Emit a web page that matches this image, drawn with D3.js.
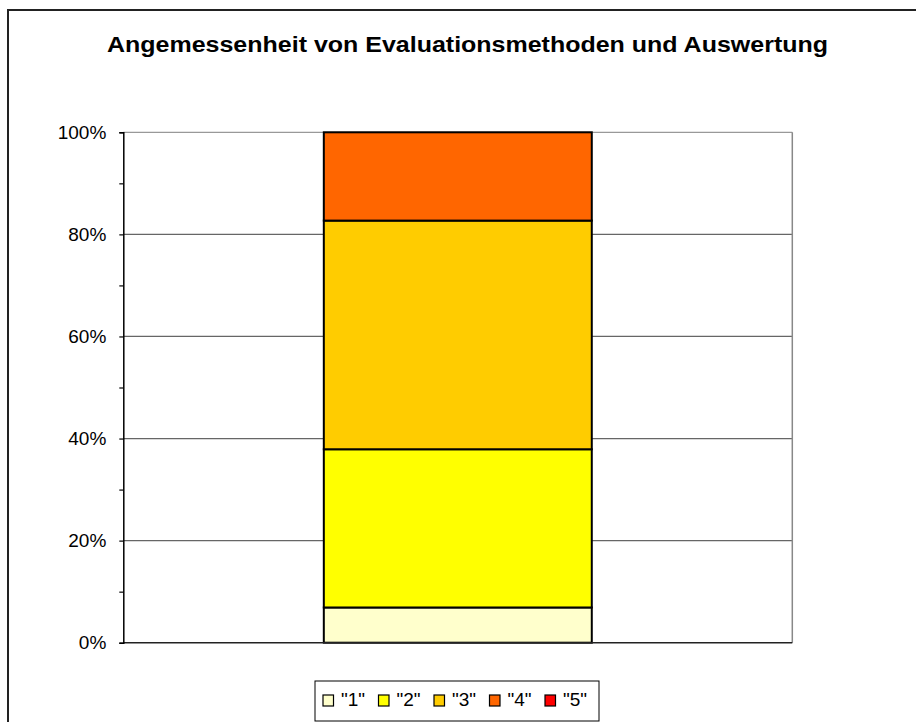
<!DOCTYPE html>
<html>
<head>
<meta charset="utf-8">
<script src="https://cdn.jsdelivr.net/npm/d3@7"></script>
<style>
  body { margin: 0; background: #fff; }
  svg { display: block; font-family: "Liberation Sans", Arial, sans-serif; }
</style>
</head>
<body>
<div id="chart"></div>
<script>
// data (share of answers, in %)
var title = "Angemessenheit von Evaluationsmethoden und Auswertung";
var categories = ["Angemessenheit"];
var seriesNames = ['"1"', '"2"', '"3"', '"4"', '"5"'];
var seriesValues = [6.9, 31.0, 44.8, 17.3, 0.0];
var seriesColors = ["#FFFFCC", "#FFFF00", "#FFCC00", "#FF6600", "#FF0000"];
var majorTicks = [0, 20, 40, 60, 80, 100];
var minorTicks = [10, 30, 50, 70, 90];

var width = 916, height = 722;
var plot = { left: 123.3, right: 792.3, top: 132.3, bottom: 642.7 };

var svg = d3.select("#chart").append("svg")
    .attr("width", width)
    .attr("height", height);

// outer chart frame (runs off the right and bottom edge)
svg.append("rect")
    .attr("x", 8).attr("y", 10)
    .attr("width", 1000).attr("height", 1000)
    .attr("fill", "#fff")
    .attr("stroke", "#222")
    .attr("stroke-width", 2);

svg.append("text")
    .attr("x", 467.5)
    .attr("y", 52.3)
    .attr("text-anchor", "middle")
    .attr("font-size", 21.5)
    .attr("font-weight", "bold")
    .attr("textLength", 721)
    .attr("lengthAdjust", "spacingAndGlyphs")
    .text(title);

var y = d3.scaleLinear().domain([0, 100]).range([plot.bottom, plot.top]);
var x = d3.scaleBand().domain(categories).range([plot.left, plot.right]).padding(0.428);

// gridlines
svg.append("g").selectAll("line")
  .data(majorTicks.slice(1))
  .join("line")
    .attr("x1", plot.left).attr("x2", plot.right)
    .attr("y1", (d) => y(d)).attr("y2", (d) => y(d))
    .attr("stroke", (d) => d === 100 ? "#999" : "#666")
    .attr("stroke-width", 1.2);

// plot area right border
svg.append("line")
    .attr("x1", plot.right).attr("x2", plot.right)
    .attr("y1", plot.top).attr("y2", plot.bottom)
    .attr("stroke", "#888")
    .attr("stroke-width", 1.5);

// stacked bar
var row = {};
seriesNames.forEach((s, i) => row[s] = seriesValues[i]);
var stacked = d3.stack().keys(seriesNames)([row]);

svg.append("g").selectAll("rect")
  .data(stacked.filter((s) => s[0][1] - s[0][0] > 0))
  .join("rect")
    .attr("x", x(categories[0]))
    .attr("width", x.bandwidth())
    .attr("y", (s) => y(s[0][1]))
    .attr("height", (s) => y(s[0][0]) - y(s[0][1]))
    .attr("fill", (s) => seriesColors[seriesNames.indexOf(s.key)])
    .attr("stroke", "#000")
    .attr("stroke-width", 2);

// x axis line
svg.append("line")
    .attr("x1", plot.left).attr("x2", plot.right)
    .attr("y1", plot.bottom).attr("y2", plot.bottom)
    .attr("stroke", "#222")
    .attr("stroke-width", 1.5);

// y axis with major and minor ticks
var yAxis = svg.append("g")
    .attr("transform", `translate(${plot.left},0)`)
    .call(d3.axisLeft(y).tickValues(majorTicks).tickFormat((d) => d + "%").tickSize(4).tickPadding(13));
yAxis.select(".domain").attr("stroke", "#000").attr("stroke-width", 1.5);
yAxis.selectAll(".tick line").attr("stroke", "#000").attr("stroke-width", 1.2);
yAxis.selectAll("text")
    .attr("font-family", "Liberation Sans, Arial, sans-serif")
    .attr("font-size", 19)
    .attr("fill", "#000");

var yMinor = svg.append("g")
    .attr("transform", `translate(${plot.left},0)`)
    .call(d3.axisLeft(y).tickValues(minorTicks).tickFormat("").tickSize(4));
yMinor.select(".domain").remove();
yMinor.selectAll(".tick line").attr("stroke", "#000").attr("stroke-width", 1.2);

// legend
var legend = svg.append("g").attr("transform", "translate(315,681)");
legend.append("rect")
    .attr("width", 284).attr("height", 40)
    .attr("fill", "#fff")
    .attr("stroke", "#000")
    .attr("stroke-width", 1);

var item = legend.selectAll("g.item")
  .data(seriesNames)
  .join("g")
    .attr("class", "item")
    .attr("transform", (d, i) => `translate(${8 + i * 55.5},14)`);

item.append("rect")
    .attr("width", 10.5).attr("height", 11)
    .attr("fill", (d, i) => seriesColors[i])
    .attr("stroke", "#000")
    .attr("stroke-width", 1.2);

item.append("text")
    .attr("x", 18)
    .attr("y", 11)
    .attr("font-size", 19)
    .text((d) => d);
</script>
</body>
</html>
